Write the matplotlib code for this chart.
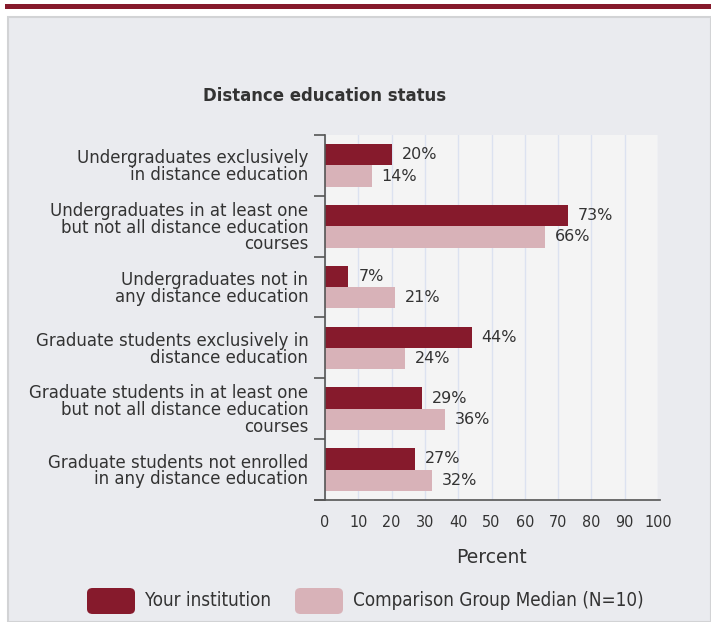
import numpy as np
import matplotlib.pyplot as plt
from matplotlib.patches import Rectangle, FancyBboxPatch

plt.rcParams['font.family'] = ['DejaVu Sans']

categories = [
    'Undergraduates exclusively\nin distance education',
    'Undergraduates in at least one\nbut not all distance education\ncourses',
    'Undergraduates not in\nany distance education',
    'Graduate students exclusively in\ndistance education',
    'Graduate students in at least one\nbut not all distance education\ncourses',
    'Graduate students not enrolled\nin any distance education',
]
your_inst = [20, 73, 7, 44, 29, 27]
comparison = [14, 66, 21, 24, 36, 32]
series_names = ['Your institution', 'Comparison Group Median (N=10)']

dark = '#861A2C'
light = '#D8B2B8'
txt = '#333333'

W, H = 711, 622
fig = plt.figure(figsize=(W / 100, H / 100), dpi=100, facecolor='white')

# page decoration: red rule and grey panel
fig.patches.append(Rectangle((5 / W, 1 - 9 / H), 706 / W, 5 / H, transform=fig.transFigure,
                             facecolor='#861A2C', edgecolor='none', zorder=-10))
fig.patches.append(Rectangle((8 / W, 0), 703 / W, 1 - 17 / H, transform=fig.transFigure,
                             facecolor='#EAEBEF', edgecolor='#D2D3D5', linewidth=1.5, zorder=-10))

ax = fig.add_axes([325 / W, 1 - 500 / H, 333 / W, 365 / H])
ax.set_facecolor('#F4F4F4')

y = np.arange(len(categories))
h = 0.35
ax.barh(y - h / 2, your_inst, height=h, color=dark, label=series_names[0])
ax.barh(y + h / 2, comparison, height=h, color=light, label=series_names[1])

for i in range(len(categories)):
    ax.text(your_inst[i] + 3, y[i] - h / 2, f'{your_inst[i]}%', va='center', ha='left',
            fontsize=11.5, color=txt)
    ax.text(comparison[i] + 3, y[i] + h / 2, f'{comparison[i]}%', va='center', ha='left',
            fontsize=11.5, color=txt)

ax.set_xlim(0, 100)
ax.set_ylim(len(categories) - 0.5, -0.5)
ax.set_xticks(np.arange(0, 101, 10))
ax.set_xticklabels([str(v) for v in range(0, 101, 10)], stretch='condensed')
ax.tick_params(axis='x', length=0, pad=11, labelsize=11.5, labelcolor=txt)
ax.set_yticks(y)
ax.set_yticklabels(categories, fontsize=12, color=txt, linespacing=0.9)
ax.tick_params(axis='y', which='major', length=0, pad=12)
ax.set_yticks(np.arange(-0.5, len(categories), 1), minor=True)
ax.tick_params(axis='y', which='minor', length=8, width=1.2, color='#555555')
for lab in ax.get_yticklabels():
    lab.set_horizontalalignment('right')
    lab.set_multialignment('right')

ax.grid(axis='x', color='#DCE2F0', linewidth=1)
ax.set_axisbelow(True)
for s in ['top', 'right']:
    ax.spines[s].set_visible(False)
ax.spines['left'].set_color('#555555')
ax.spines['left'].set_linewidth(1.2)
ax.spines['bottom'].set_color('#555555')
ax.spines['bottom'].set_linewidth(1.2)
ax.spines['bottom'].set_bounds(-3, 100.6)
ax.set_xlabel('Percent', fontsize=13.5, color=txt, labelpad=13)

fig.text(325 / W, 1 - 96 / H, 'Distance education status', ha='center', va='center',
         fontsize=11.9, fontweight='bold', color=txt)

# legend
for x0, col, name in [(87, dark, series_names[0]), (295, light, series_names[1])]:
    fig.patches.append(FancyBboxPatch((x0 / W, 1 - 614 / H), 48 / W, 26 / H,
                                      boxstyle='round,pad=0,rounding_size=0.008',
                                      transform=fig.transFigure, facecolor=col, edgecolor='none'))
    fig.text((x0 + 58) / W, 1 - 601 / H, name, ha='left', va='center', fontsize=13.5,
             color=txt, stretch='condensed')

fig.savefig('out.png', dpi=100, facecolor='white')
